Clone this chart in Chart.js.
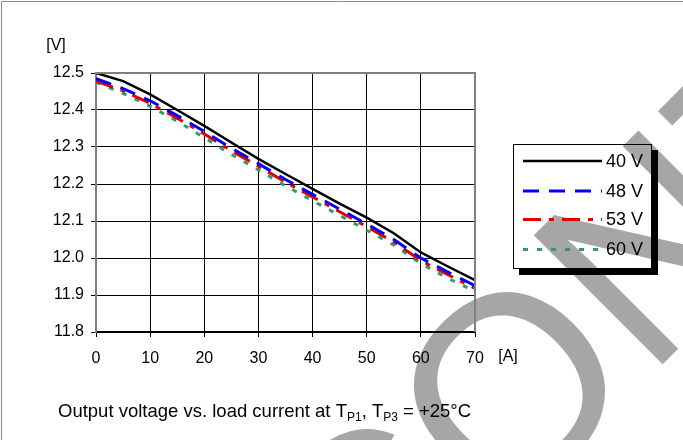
<!DOCTYPE html>
<html><head><meta charset="utf-8">
<script src="https://cdn.jsdelivr.net/npm/chart.js@4/dist/chart.umd.min.js"></script>
<style>html,body{margin:0;padding:0;background:#fff;}canvas{display:block}</style>
</head><body>
<canvas id="c" width="683" height="440"></canvas>
<script>
const currents = [0, 5, 10, 15, 20, 25, 30, 35, 40, 45, 50, 55, 60, 65, 70];
const v40 = [12.500, 12.478, 12.442, 12.400, 12.357, 12.312, 12.268, 12.227, 12.187, 12.147, 12.109, 12.067, 12.015, 11.977, 11.940];
const v48 = [12.485, 12.458, 12.425, 12.385, 12.342, 12.297, 12.255, 12.212, 12.172, 12.132, 12.092, 12.050, 12.000, 11.962, 11.925];
const v53 = [12.478, 12.452, 12.418, 12.378, 12.335, 12.290, 12.248, 12.205, 12.165, 12.125, 12.085, 12.043, 11.993, 11.955, 11.918];
const v60 = [12.475, 12.445, 12.410, 12.370, 12.325, 12.280, 12.238, 12.195, 12.155, 12.115, 12.075, 12.035, 11.985, 11.945, 11.910];
const seriesNames = ['40 V', '48 V', '53 V', '60 V'];
const xTicks = [0, 10, 20, 30, 40, 50, 60, 70];
const yTicks = [11.8, 11.9, 12.0, 12.1, 12.2, 12.3, 12.4, 12.5];
const yUnit = '[V]';
const xUnit = '[A]';
const captionParts = [['Output voltage vs. load current at T', false], ['P1', true], [', T', false], ['P3', true], [' = +25°C', false]];
const watermarkText = 'DISCONTINUED';

const FONT = '"Liberation Sans", Arial, sans-serif';
const mk = (arr) => currents.map((x, i) => ({x: x, y: arr[i]}));

const deco = {
  id: 'deco',
  beforeDraw(chart) {
    const ctx = chart.ctx;
    ctx.save();
    ctx.fillStyle = '#fff'; ctx.fillRect(0, 0, 683, 440);
    // grey watermark behind the chart
    const F = 265;
    ctx.font = F + 'px ' + FONT;
    ctx.fillStyle = '#a6a6a6';
    ctx.translate(507, 385);
    ctx.rotate(-45 * Math.PI / 180);
    const pre = ctx.measureText('DISC').width, wO = ctx.measureText('O').width;
    ctx.textAlign = 'left'; ctx.textBaseline = 'alphabetic';
    ctx.fillText(watermarkText, -(pre + wO / 2), 0.36 * F);
    ctx.restore();
  },
  afterDraw(chart) {
    const ctx = chart.ctx, a = chart.chartArea;
    ctx.save();
    // outer frame (top & left)
    ctx.strokeStyle = '#8c8c8c'; ctx.lineWidth = 1;
    ctx.beginPath(); ctx.moveTo(1.5, 440); ctx.lineTo(1.5, 1.5); ctx.lineTo(683, 1.5); ctx.stroke();
    // plot top & right borders
    ctx.strokeStyle = '#808080'; ctx.lineWidth = 2;
    ctx.beginPath(); ctx.moveTo(a.left, a.top); ctx.lineTo(a.right, a.top); ctx.lineTo(a.right, a.bottom); ctx.stroke();
    // unit labels
    ctx.fillStyle = '#000'; ctx.font = '16px ' + FONT; ctx.textAlign = 'center'; ctx.textBaseline = 'middle';
    ctx.fillText(yUnit, 56, 46);
    ctx.fillText(xUnit, 508, 357);
    // caption
    ctx.textAlign = 'left'; ctx.textBaseline = 'alphabetic';
    let x = 58;
    captionParts.forEach(([t, sub]) => {
      ctx.font = (sub ? '12px ' : '18.5px ') + FONT;
      ctx.fillText(t, x, sub ? 421 : 417);
      x += ctx.measureText(t).width;
    });
    // legend box with shadow (transparent inside)
    const L = 513, T = 144, R = 652, B = 269;
    ctx.fillStyle = '#000';
    ctx.fillRect(L + 6, B, R - L, 6);
    ctx.fillRect(R, T + 6, 6, B - T);
    ctx.strokeStyle = '#000'; ctx.lineWidth = 1;
    ctx.strokeRect(L + 0.5, T + 0.5, R - L - 1, B - T - 1);
    const rows = [161, 191, 219.5, 249.5];
    chart.data.datasets.forEach((ds, i) => {
      ctx.save();
      ctx.strokeStyle = ds.borderColor; ctx.lineWidth = ds.borderWidth;
      ctx.setLineDash(ds.borderDash || []);
      ctx.beginPath(); ctx.moveTo(523, rows[i]); ctx.lineTo(602, rows[i]); ctx.stroke();
      ctx.restore();
      ctx.fillStyle = '#000'; ctx.font = '18px ' + FONT; ctx.textAlign = 'left'; ctx.textBaseline = 'middle';
      ctx.fillText(ds.label, 606, rows[i] + 1);
    });
    ctx.restore();
  }
};

new Chart(document.getElementById('c'), {
  type: 'line',
  data: {
    datasets: [
      {label: seriesNames[0], data: mk(v40), borderColor: '#000000', borderWidth: 2.5},
      {label: seriesNames[1], data: mk(v48), borderColor: '#0000ff', borderWidth: 3, borderDash: [16, 10]},
      {label: seriesNames[2], data: mk(v53), borderColor: '#e00000', borderWidth: 3, borderDash: [18, 8, 5, 8]},
      {label: seriesNames[3], data: mk(v60), borderColor: '#339966', borderWidth: 3, borderDash: [5, 9]}
    ]
  },
  options: {
    responsive: false, animation: false, devicePixelRatio: 1,
    layout: {padding: {left: 0, top: 73, right: 208, bottom: 68}},
    elements: {point: {radius: 0}, line: {tension: 0}},
    plugins: {legend: {display: false}, tooltip: {enabled: false}, title: {display: false}},
    scales: {
      x: {
        type: 'linear', min: 0, max: 70,
        afterBuildTicks: (s) => { s.ticks = xTicks.map(v => ({value: v})); },
        afterFit: (s) => { s.height = 40; },
        ticks: {color: '#000', font: {family: FONT, size: 16}, padding: 12, maxRotation: 0},
        grid: {color: '#000', lineWidth: 1, tickLength: 5},
        border: {color: '#000', width: 2}
      },
      y: {
        type: 'linear', min: 11.8, max: 12.5,
        afterBuildTicks: (s) => { s.ticks = yTicks.map(v => ({value: v})); },
        afterFit: (s) => { s.width = 96; },
        ticks: {color: '#000', font: {family: FONT, size: 16}, padding: 7, callback: (v) => Number(v).toFixed(1)},
        grid: {color: '#000', lineWidth: 1, tickLength: 5},
        border: {color: '#808080', width: 2}
      }
    }
  },
  plugins: [deco]
});
</script>
</body></html>
